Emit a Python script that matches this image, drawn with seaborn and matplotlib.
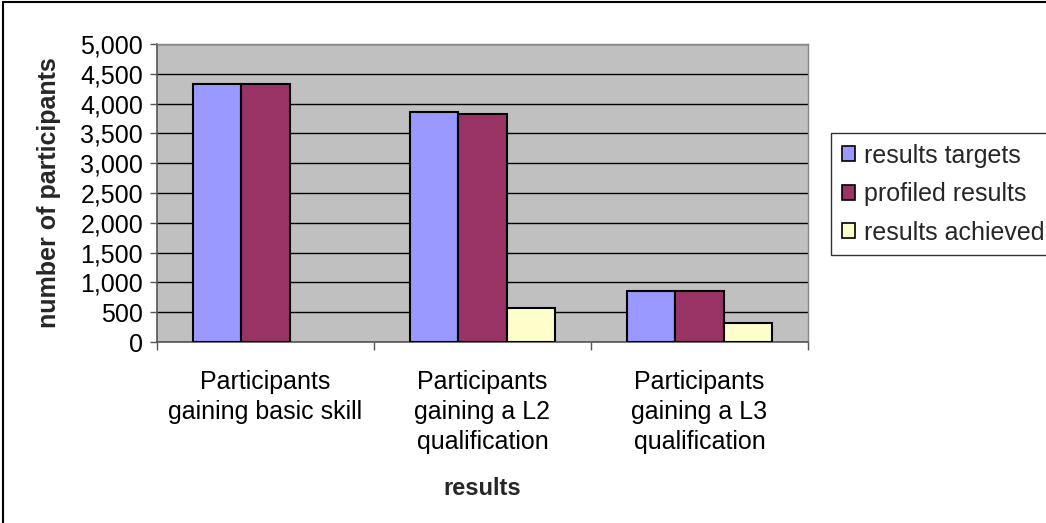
import matplotlib
matplotlib.use("Agg")
import matplotlib.pyplot as plt
import seaborn as sns
import pandas as pd
import numpy as np
from matplotlib.lines import Line2D
from matplotlib.patches import Patch
from matplotlib.ticker import FuncFormatter, FixedLocator

categories = ["Participants\ngaining basic skill",
              "Participants\ngaining a L2\nqualification",
              "Participants\ngaining a L3\nqualification"]
series = ["results targets", "profiled results", "results achieved"]
results_targets = [4330, 3860, 850]
profiled_results = [4330, 3820, 850]
results_achieved = [0, 570, 315]
colors = ["#9999FF", "#993366", "#FFFFCC"]

df = pd.DataFrame({
    "category": categories * 3,
    "series": [series[0]] * 3 + [series[1]] * 3 + [series[2]] * 3,
    "value": results_targets + profiled_results + results_achieved,
})

sns.set_theme(style="white")
plt.rcParams["font.family"] = ["Liberation Sans", "DejaVu Sans"]

FS = 18
fig = plt.figure(figsize=(10.46, 5.23), dpi=100)
ax = fig.add_axes([157/1046, 1 - 342/523, (808 - 157)/1046, (342 - 44)/523])
ax.set_facecolor("#C0C0C0")

sns.barplot(data=df, x="category", y="value", hue="series", palette=colors,
            saturation=1, width=0.667, gap=0, ax=ax, edgecolor="black",
            linewidth=1.5, legend=False, zorder=3)
for p in ax.patches:
    if p.get_height() == 0:
        p.set_visible(False)

ax.set_ylim(0, 5000)
ax.set_xlim(-0.5, 2.5)
ax.set_yticks(np.arange(0, 5001, 500))
ax.yaxis.set_major_formatter(FuncFormatter(lambda v, p: f"{int(v):,}"))
ax.yaxis.grid(True, color="black", linewidth=1.0, zorder=0)
ax.set_axisbelow(True)
ax.xaxis.grid(False)

ax.tick_params(axis="y", which="major", left=True, length=5, width=1,
               color="#555555", labelsize=FS, pad=5, labelcolor="black")
ax.tick_params(axis="x", which="major", bottom=False, labelsize=FS,
               pad=14, labelcolor="black")
for t in ax.get_xticklabels():
    t.set_linespacing(1.33)
ax.xaxis.set_minor_locator(FixedLocator([-0.5, 0.5, 1.5, 2.5]))
ax.tick_params(axis="x", which="minor", bottom=True, length=6, width=1,
               color="#555555")

for s in ["left", "bottom"]:
    ax.spines[s].set_visible(True)
    ax.spines[s].set_color("#555555")
    ax.spines[s].set_linewidth(1.2)
for s in ["top", "right"]:
    ax.spines[s].set_visible(True)
    ax.spines[s].set_color("#888888")
    ax.spines[s].set_linewidth(1.0)

ax.set_ylabel("number of participants", fontsize=FS, fontweight="bold",
              labelpad=14)
ax.set_xlabel("results", fontsize=17, fontweight="bold", labelpad=16)

handles = [Patch(facecolor=c, edgecolor="black", linewidth=1.2, label=l)
           for c, l in zip(colors, series)]
leg = fig.legend(handles=handles, loc="upper left",
                 bbox_to_anchor=(831/1046, 1 - 133/523),
                 fontsize=FS, frameon=True, fancybox=False,
                 handlelength=0.55, handleheight=0.55, handletextpad=0.35,
                 labelspacing=0.58, borderpad=0.42, borderaxespad=0)
leg.get_frame().set_edgecolor("black")
leg.get_frame().set_linewidth(1.0)

fig.add_artist(Line2D([2.5/1046, 2.5/1046], [0, 1 - 1.5/523],
                      transform=fig.transFigure, color="black", linewidth=1.5))
fig.add_artist(Line2D([2.5/1046, 1], [1 - 1.5/523, 1 - 1.5/523],
                      transform=fig.transFigure, color="black", linewidth=1.5))

fig.savefig("out.png", dpi=100, facecolor="white")
